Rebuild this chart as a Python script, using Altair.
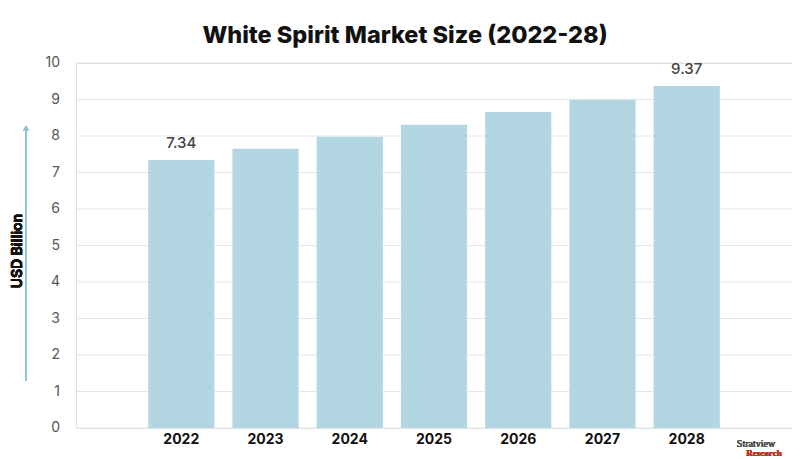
import altair as alt
import pandas as pd

years = ["2022", "2023", "2024", "2025", "2026", "2027", "2028"]
values = [7.34, 7.65, 7.98, 8.31, 8.66, 8.99, 9.37]
labels = ["7.34", "", "", "", "", "", "9.37"]
y_ticks = [0, 1, 2, 3, 4, 5, 6, 7, 8, 9, 10]

df = pd.DataFrame({"year": years, "value": values, "label": labels})
tick_df = pd.DataFrame({"tick": y_ticks})

FONT = "Inter"
yscale = alt.Scale(domain=[0, 10], nice=False)

x = alt.X("year:N", sort=years, title=None,
          scale=alt.Scale(paddingInner=0.214, paddingOuter=0.857),
          axis=alt.Axis(labelAngle=0, labelFontWeight="bold", labelColor="#111111",
                        labelFontSize=14, labelFont=FONT, labelPadding=4,
                        ticks=False, domain=False, grid=False))
y = alt.Y("value:Q", scale=yscale, axis=None)

grid = alt.Chart(tick_df).mark_rule(color="#e6e6e6", strokeWidth=1).encode(
    y=alt.Y("tick:Q", scale=yscale, axis=None), x=alt.value(0), x2=alt.value(716))
ylabels = alt.Chart(tick_df).mark_text(align="right", baseline="middle", fontSize=14,
                                       font=FONT, color="#555555").encode(
    y=alt.Y("tick:Q", scale=yscale, axis=None), x=alt.value(-16), text="tick:Q")

bars = alt.Chart(df).mark_bar(color="#b3d6e3").encode(x=x, y=y)

text = alt.Chart(df).mark_text(dy=-9, baseline="bottom", fontSize=15, font=FONT,
                               fontWeight=500, color="#444444").encode(
    x=x, y=y, text="label:N")

ytitle = alt.Chart(df).mark_text(angle=270, align="center", baseline="middle",
                                 font=FONT, fontSize=14, fontWeight="bold",
                                 color="#111111").encode(
    x=alt.value(-58), y=alt.value(188), text=alt.value("USD Billion"))

arrow_line = alt.Chart(df).mark_rule(color="#8ec3d6", strokeWidth=1.2).encode(
    x=alt.value(-50), y=alt.value(67), y2=alt.value(318))
arrow_head = alt.Chart(df).mark_point(shape="triangle-up", filled=True, color="#8ec3d6",
                                      size=30, opacity=1).encode(
    x=alt.value(-50), y=alt.value(65))

logo1 = alt.Chart(df).mark_text(font="Liberation Serif", fontSize=10, color="#555555",
                                align="center", baseline="alphabetic").encode(
    x=alt.value(680), y=alt.value(384), text=alt.value("Stratview"))
logo2 = alt.Chart(df).mark_text(font="Liberation Serif", fontSize=9, color="#c0392b",
                                fontWeight="bold", align="center", baseline="alphabetic").encode(
    x=alt.value(688), y=alt.value(393), text=alt.value("Research"))

chart = alt.layer(grid, ylabels, bars, text, ytitle, arrow_line, arrow_head, logo1, logo2).properties(
    width=716, height=365,
    autosize=alt.AutoSizeParams(type="none"),
    padding={"left": 68, "top": 55, "right": 0, "bottom": 30},
    title=alt.TitleParams("White Spirit Market Size (2022-28)", font=FONT, fontSize=23.5,
                          fontWeight=800, color="#111111", anchor="middle",
                          dx=-29, offset=9),
).configure_view(stroke=None).configure(background="white")

chart.save("out.html", embed_options={"renderer": "svg", "actions": False})
